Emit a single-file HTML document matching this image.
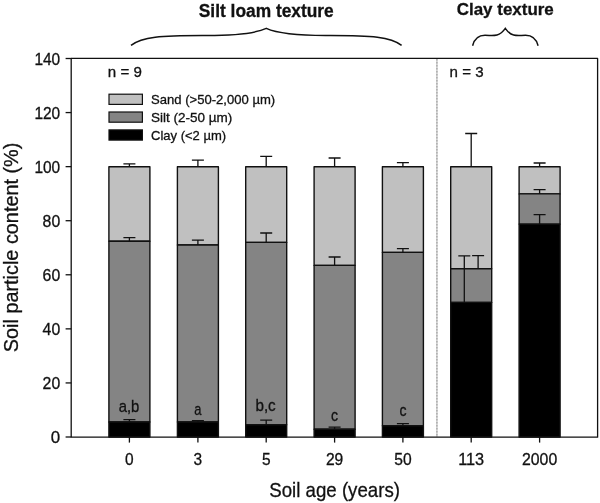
<!DOCTYPE html>
<html><head><meta charset="utf-8"><title>Soil particle content</title>
<style>html,body{margin:0;padding:0;background:#fff;width:600px;height:503px;overflow:hidden}svg{display:block}text{font-family:'Liberation Sans', Arial, sans-serif;fill:#111;stroke:#111;stroke-width:0.3px}</style>
</head><body>
<svg width="600" height="503" viewBox="0 0 600 503">
<rect width="600" height="503" fill="#fff"/>
<rect x="108.90" y="166.70" width="41.0" height="74.50" fill="#c0c0c0" stroke="#111" stroke-width="1.4" stroke-linejoin="round"/>
<rect x="108.90" y="241.20" width="41.0" height="180.80" fill="#848484" stroke="#111" stroke-width="1.4" stroke-linejoin="round"/>
<rect x="108.90" y="422.00" width="41.0" height="15.00" fill="#000" stroke="#111" stroke-width="1.4" stroke-linejoin="round"/>
<rect x="177.40" y="166.70" width="41.0" height="78.30" fill="#c0c0c0" stroke="#111" stroke-width="1.4" stroke-linejoin="round"/>
<rect x="177.40" y="245.00" width="41.0" height="177.00" fill="#848484" stroke="#111" stroke-width="1.4" stroke-linejoin="round"/>
<rect x="177.40" y="422.00" width="41.0" height="15.00" fill="#000" stroke="#111" stroke-width="1.4" stroke-linejoin="round"/>
<rect x="245.70" y="166.70" width="41.0" height="75.70" fill="#c0c0c0" stroke="#111" stroke-width="1.4" stroke-linejoin="round"/>
<rect x="245.70" y="242.40" width="41.0" height="182.35" fill="#848484" stroke="#111" stroke-width="1.4" stroke-linejoin="round"/>
<rect x="245.70" y="424.75" width="41.0" height="12.25" fill="#000" stroke="#111" stroke-width="1.4" stroke-linejoin="round"/>
<rect x="314.10" y="166.70" width="41.0" height="98.70" fill="#c0c0c0" stroke="#111" stroke-width="1.4" stroke-linejoin="round"/>
<rect x="314.10" y="265.40" width="41.0" height="163.80" fill="#848484" stroke="#111" stroke-width="1.4" stroke-linejoin="round"/>
<rect x="314.10" y="429.20" width="41.0" height="7.80" fill="#000" stroke="#111" stroke-width="1.4" stroke-linejoin="round"/>
<rect x="382.40" y="166.70" width="41.0" height="85.70" fill="#c0c0c0" stroke="#111" stroke-width="1.4" stroke-linejoin="round"/>
<rect x="382.40" y="252.40" width="41.0" height="173.35" fill="#848484" stroke="#111" stroke-width="1.4" stroke-linejoin="round"/>
<rect x="382.40" y="425.75" width="41.0" height="11.25" fill="#000" stroke="#111" stroke-width="1.4" stroke-linejoin="round"/>
<rect x="450.70" y="166.70" width="41.0" height="102.10" fill="#c0c0c0" stroke="#111" stroke-width="1.4" stroke-linejoin="round"/>
<rect x="450.70" y="268.80" width="41.0" height="33.60" fill="#848484" stroke="#111" stroke-width="1.4" stroke-linejoin="round"/>
<rect x="450.70" y="302.40" width="41.0" height="134.60" fill="#000" stroke="#111" stroke-width="1.4" stroke-linejoin="round"/>
<rect x="519.10" y="166.70" width="41.0" height="27.20" fill="#c0c0c0" stroke="#111" stroke-width="1.4" stroke-linejoin="round"/>
<rect x="519.10" y="193.90" width="41.0" height="30.20" fill="#848484" stroke="#111" stroke-width="1.4" stroke-linejoin="round"/>
<rect x="519.10" y="224.10" width="41.0" height="212.90" fill="#000" stroke="#111" stroke-width="1.4" stroke-linejoin="round"/>
<path d="M129.40,166.70V163.80M123.40,163.80H135.40" stroke="#111" stroke-width="1.3" fill="none"/>
<path d="M129.40,241.20V237.70M123.40,237.70H135.40" stroke="#111" stroke-width="1.3" fill="none"/>
<path d="M129.40,422.00V419.60M123.40,419.60H135.40" stroke="#111" stroke-width="1.3" fill="none"/>
<path d="M197.90,166.70V160.20M191.90,160.20H203.90" stroke="#111" stroke-width="1.3" fill="none"/>
<path d="M197.90,245.00V240.20M191.90,240.20H203.90" stroke="#111" stroke-width="1.3" fill="none"/>
<path d="M197.90,422.00V420.60M191.90,420.60H203.90" stroke="#111" stroke-width="1.3" fill="none"/>
<path d="M266.20,166.70V156.40M260.20,156.40H272.20" stroke="#111" stroke-width="1.3" fill="none"/>
<path d="M266.20,242.40V233.00M260.20,233.00H272.20" stroke="#111" stroke-width="1.3" fill="none"/>
<path d="M266.20,424.75V420.20M260.20,420.20H272.20" stroke="#111" stroke-width="1.3" fill="none"/>
<path d="M334.60,166.70V158.00M328.60,158.00H340.60" stroke="#111" stroke-width="1.3" fill="none"/>
<path d="M334.60,265.40V257.00M328.60,257.00H340.60" stroke="#111" stroke-width="1.3" fill="none"/>
<path d="M334.60,429.20V427.10M328.60,427.10H340.60" stroke="#111" stroke-width="1.3" fill="none"/>
<path d="M402.90,166.70V162.60M396.90,162.60H408.90" stroke="#111" stroke-width="1.3" fill="none"/>
<path d="M402.90,252.40V248.60M396.90,248.60H408.90" stroke="#111" stroke-width="1.3" fill="none"/>
<path d="M402.90,425.75V423.60M396.90,423.60H408.90" stroke="#111" stroke-width="1.3" fill="none"/>
<path d="M471.20,166.70V133.50M465.20,133.50H477.20" stroke="#111" stroke-width="1.3" fill="none"/>
<path d="M464.30,302.40V255.80M458.30,255.80H470.30" stroke="#111" stroke-width="1.3" fill="none"/>
<path d="M478.10,268.80V255.60M472.10,255.60H484.10" stroke="#111" stroke-width="1.3" fill="none"/>
<path d="M539.60,166.70V163.00M533.60,163.00H545.60" stroke="#111" stroke-width="1.3" fill="none"/>
<path d="M539.60,193.90V189.60M533.60,189.60H545.60" stroke="#111" stroke-width="1.3" fill="none"/>
<path d="M539.60,224.10V214.70M533.60,214.70H545.60" stroke="#111" stroke-width="1.3" fill="none"/>
<line x1="436.9" y1="59" x2="436.9" y2="437" stroke="#d2d2d2" stroke-width="1.7"/>
<line x1="436.9" y1="59" x2="436.9" y2="437" stroke="#aaaaaa" stroke-width="1.4" stroke-dasharray="1.5 1.5"/>
<path d="M71.2,58.4H597.6V437.2H71.2Z" fill="none" stroke="#111" stroke-width="1.3" stroke-linejoin="round"/>
<line x1="65.6" y1="437.00" x2="71.3" y2="437.00" stroke="#111" stroke-width="1.3"/>
<line x1="65.6" y1="382.93" x2="71.3" y2="382.93" stroke="#111" stroke-width="1.3"/>
<line x1="65.6" y1="328.86" x2="71.3" y2="328.86" stroke="#111" stroke-width="1.3"/>
<line x1="65.6" y1="274.78" x2="71.3" y2="274.78" stroke="#111" stroke-width="1.3"/>
<line x1="65.6" y1="220.71" x2="71.3" y2="220.71" stroke="#111" stroke-width="1.3"/>
<line x1="65.6" y1="166.64" x2="71.3" y2="166.64" stroke="#111" stroke-width="1.3"/>
<line x1="65.6" y1="112.57" x2="71.3" y2="112.57" stroke="#111" stroke-width="1.3"/>
<line x1="65.6" y1="58.50" x2="71.3" y2="58.50" stroke="#111" stroke-width="1.3"/>
<line x1="129.40" y1="437" x2="129.40" y2="442.6" stroke="#111" stroke-width="1.3"/>
<line x1="197.90" y1="437" x2="197.90" y2="442.6" stroke="#111" stroke-width="1.3"/>
<line x1="266.20" y1="437" x2="266.20" y2="442.6" stroke="#111" stroke-width="1.3"/>
<line x1="334.60" y1="437" x2="334.60" y2="442.6" stroke="#111" stroke-width="1.3"/>
<line x1="402.90" y1="437" x2="402.90" y2="442.6" stroke="#111" stroke-width="1.3"/>
<line x1="471.20" y1="437" x2="471.20" y2="442.6" stroke="#111" stroke-width="1.3"/>
<line x1="539.60" y1="437" x2="539.60" y2="442.6" stroke="#111" stroke-width="1.3"/>
<rect x="109.0" y="94.2" width="33.4" height="10.2" fill="#c0c0c0" stroke="#111" stroke-width="1.2"/>
<rect x="109.0" y="112.0" width="33.4" height="10.2" fill="#848484" stroke="#111" stroke-width="1.2"/>
<rect x="109.0" y="129.9" width="33.4" height="10.2" fill="#000" stroke="#111" stroke-width="1.2"/>
<path d="M131,45.3 C142,36.9 160,35.4 205,35.5 C235,35.6 255,33.5 266.3,28.4 C277.6,33.5 297.6,35.6 327.6,35.5 C372.6,35.4 390.6,36.9 401.6,45.3" fill="none" stroke="#111" stroke-width="1.5"/>
<path d="M472.6,45.7 C474.5,38.5 478.5,35.3 485,35.3 C490,35.3 493,36 497,35 C501,34 503.5,31 505.3,28.4 C507.1,31 509.6,34 513.6,35 C517.6,36 520.6,35.3 525.6,35.3 C532.1,35.3 536.1,38.5 538.1,45.7" fill="none" stroke="#111" stroke-width="1.5"/>
<text x="60.20" y="443.00" font-size="16.3" font-weight="normal" text-anchor="end" textLength="9.4" lengthAdjust="spacingAndGlyphs">0</text>
<text x="60.20" y="388.93" font-size="16.3" font-weight="normal" text-anchor="end" textLength="17.6" lengthAdjust="spacingAndGlyphs">20</text>
<text x="60.20" y="334.86" font-size="16.3" font-weight="normal" text-anchor="end" textLength="17.6" lengthAdjust="spacingAndGlyphs">40</text>
<text x="60.20" y="280.78" font-size="16.3" font-weight="normal" text-anchor="end" textLength="17.6" lengthAdjust="spacingAndGlyphs">60</text>
<text x="60.20" y="226.71" font-size="16.3" font-weight="normal" text-anchor="end" textLength="17.6" lengthAdjust="spacingAndGlyphs">80</text>
<text x="60.20" y="172.64" font-size="16.3" font-weight="normal" text-anchor="end" textLength="25.8" lengthAdjust="spacingAndGlyphs">100</text>
<text x="60.20" y="118.57" font-size="16.3" font-weight="normal" text-anchor="end" textLength="25.8" lengthAdjust="spacingAndGlyphs">120</text>
<text x="60.20" y="64.50" font-size="16.3" font-weight="normal" text-anchor="end" textLength="25.8" lengthAdjust="spacingAndGlyphs">140</text>
<text x="129.40" y="464.90" font-size="16.3" font-weight="normal" text-anchor="middle" textLength="8.6" lengthAdjust="spacingAndGlyphs">0</text>
<text x="197.90" y="464.90" font-size="16.3" font-weight="normal" text-anchor="middle" textLength="8.6" lengthAdjust="spacingAndGlyphs">3</text>
<text x="266.20" y="464.90" font-size="16.3" font-weight="normal" text-anchor="middle" textLength="8.6" lengthAdjust="spacingAndGlyphs">5</text>
<text x="334.60" y="464.90" font-size="16.3" font-weight="normal" text-anchor="middle" textLength="17.4" lengthAdjust="spacingAndGlyphs">29</text>
<text x="402.90" y="464.90" font-size="16.3" font-weight="normal" text-anchor="middle" textLength="17.4" lengthAdjust="spacingAndGlyphs">50</text>
<text x="471.20" y="464.90" font-size="16.3" font-weight="normal" text-anchor="middle" textLength="26.0" lengthAdjust="spacingAndGlyphs">113</text>
<text x="539.60" y="464.90" font-size="16.3" font-weight="normal" text-anchor="middle" textLength="35.2" lengthAdjust="spacingAndGlyphs">2000</text>
<text x="334.60" y="497.00" font-size="20.6" font-weight="normal" text-anchor="middle" textLength="130.7" lengthAdjust="spacingAndGlyphs">Soil age (years)</text>
<text transform="translate(18.1,247.4) rotate(-90)" x="0" y="0" font-size="20.6" text-anchor="middle" textLength="209.5" lengthAdjust="spacingAndGlyphs">Soil particle content (%)</text>
<text x="266.25" y="16.50" font-size="18" font-weight="bold" text-anchor="middle" textLength="135" lengthAdjust="spacingAndGlyphs">Silt loam texture</text>
<text x="505.25" y="15.10" font-size="17.4" font-weight="bold" text-anchor="middle" textLength="97" lengthAdjust="spacingAndGlyphs">Clay texture</text>
<text x="107.80" y="76.60" font-size="15.0" font-weight="normal" text-anchor="start" textLength="34.0" lengthAdjust="spacingAndGlyphs">n = 9</text>
<text x="449.60" y="76.60" font-size="15.0" font-weight="normal" text-anchor="start" textLength="34.0" lengthAdjust="spacingAndGlyphs">n = 3</text>
<text x="151.00" y="104.40" font-size="13.3" font-weight="normal" text-anchor="start" textLength="124.2" lengthAdjust="spacingAndGlyphs">Sand (&gt;50-2,000 µm)</text>
<text x="151.00" y="122.30" font-size="13.3" font-weight="normal" text-anchor="start" textLength="81.3" lengthAdjust="spacingAndGlyphs">Silt (2-50 µm)</text>
<text x="151.00" y="140.30" font-size="13.3" font-weight="normal" text-anchor="start" textLength="75.1" lengthAdjust="spacingAndGlyphs">Clay (&lt;2 µm)</text>
<text x="129.00" y="411.60" font-size="16.3" font-weight="normal" text-anchor="middle" textLength="20.6" lengthAdjust="spacingAndGlyphs">a,b</text>
<text x="197.90" y="415.20" font-size="16.3" font-weight="normal" text-anchor="middle" textLength="7.2" lengthAdjust="spacingAndGlyphs">a</text>
<text x="265.60" y="410.70" font-size="16.3" font-weight="normal" text-anchor="middle" textLength="20.3" lengthAdjust="spacingAndGlyphs">b,c</text>
<text x="334.60" y="421.00" font-size="16.3" font-weight="normal" text-anchor="middle" textLength="7.0" lengthAdjust="spacingAndGlyphs">c</text>
<text x="402.90" y="416.00" font-size="16.3" font-weight="normal" text-anchor="middle" textLength="7.0" lengthAdjust="spacingAndGlyphs">c</text>
</svg>
</body></html>
